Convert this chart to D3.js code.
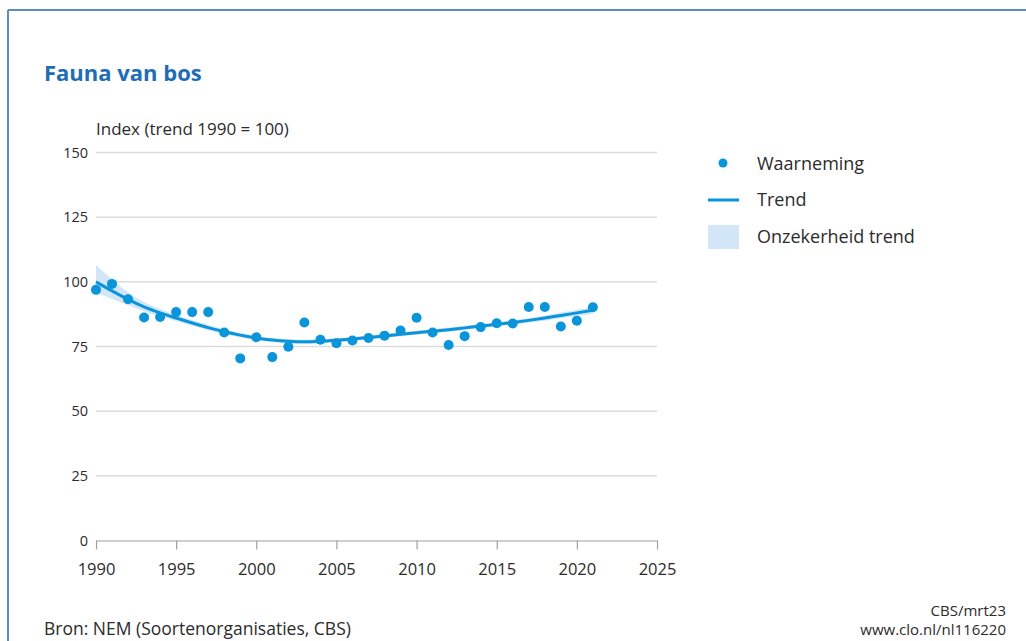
<!DOCTYPE html>
<html>
<head>
<meta charset="utf-8">
<script src="https://cdn.jsdelivr.net/npm/d3@7.9.0/dist/d3.min.js"></script>
<style>
  body { margin: 0; background: #fff; }
  svg { font-family: "Open Sans", sans-serif; }
</style>
</head>
<body>
<svg width="1026" height="641"></svg>
<script>
// data
const years = d3.range(1990, 2022);
const observed = [96.9, 99.2, 93.3, 86.2, 86.4, 88.3, 88.3, 88.3, 80.4, 70.4,
                  78.6, 70.9, 74.9, 84.3, 77.6, 76.3, 77.3, 78.3, 79.2, 81.2,
                  86.1, 80.4, 75.6, 79.0, 82.5, 84.0, 83.9, 90.3, 90.3, 82.7,
                  85.0, 90.2];
const trend = [100, 96.5, 93.2, 90.3, 88.0, 86.0, 84.1, 82.3, 80.7, 79.4,
               78.3, 77.5, 77.0, 76.8, 77.0, 77.4, 77.9, 78.5, 79.1, 79.7,
               80.3, 80.9, 81.5, 82.2, 82.9, 83.6, 84.3, 85.1, 86.0, 87.0,
               88.0, 89.0];
const lower = [95.8, 93.4, 91.0, 88.6, 86.6, 84.8, 83.0, 81.3, 79.8, 78.5,
               77.5, 76.7, 76.2, 76.0, 76.2, 76.6, 77.1, 77.7, 78.3, 78.9,
               79.5, 80.1, 80.7, 81.4, 82.1, 82.8, 83.5, 84.2, 85.0, 85.9,
               86.8, 87.7];
const upper = [106.4, 101.0, 96.0, 92.2, 89.5, 87.3, 85.2, 83.3, 81.6, 80.3,
               79.1, 78.3, 77.8, 77.6, 77.8, 78.2, 78.7, 79.3, 79.9, 80.5,
               81.1, 81.7, 82.3, 83.0, 83.7, 84.4, 85.1, 86.0, 87.0, 88.1,
               89.2, 90.3];
const yTicks = [0, 25, 50, 75, 100, 125, 150];
const xTicks = [1990, 1995, 2000, 2005, 2010, 2015, 2020, 2025];

const blue = "#0a95da";
const ink = "#2b2b2b";
const svg = d3.select("svg");

// frame
svg.append("line").attr("x1", 8).attr("x2", 1026).attr("y1", 10).attr("y2", 10)
  .attr("stroke", "#5b8ac5").attr("stroke-width", 2);
svg.append("line").attr("x1", 8).attr("x2", 8).attr("y1", 10).attr("y2", 641)
  .attr("stroke", "#5b8ac5").attr("stroke-width", 2);

svg.append("text").attr("x", 44).attr("y", 81)
  .attr("font-size", 22).attr("font-weight", 700).attr("fill", "#1f6db5")
  .text("Fauna van bos");

const x = d3.scaleLinear().domain([1990, 2025]).range([96, 657]);
const y = d3.scaleLinear().domain([0, 150]).range([540.5, 152.5]);

svg.append("text").attr("x", 96).attr("y", 135)
  .attr("font-size", 17).attr("fill", ink)
  .text("Index (trend 1990 = 100)");

// gridlines + y labels
const grid = svg.append("g");
yTicks.filter(d => d > 0).forEach(t => {
  grid.append("line").attr("x1", x(1990)).attr("x2", x(2025))
    .attr("y1", y(t)).attr("y2", y(t))
    .attr("stroke", "#dcdcdc").attr("stroke-width", 1.5);
});
yTicks.forEach(t => {
  grid.append("text").attr("x", 88).attr("y", y(t)).attr("dy", "0.35em")
    .attr("text-anchor", "end").attr("font-size", 14.5).attr("fill", ink)
    .text(t);
});

// x axis
const xAxis = d3.axisBottom(x).tickValues(xTicks).tickFormat(d3.format("d"))
  .tickSize(9).tickSizeOuter(0).tickPadding(14);
const gx = svg.append("g").attr("transform", `translate(0,${y(0)})`).call(xAxis);
gx.select(".domain").attr("stroke", "#a0a0a0").attr("stroke-width", 1.2);
gx.selectAll(".tick line").attr("stroke", "#a0a0a0").attr("stroke-width", 1.2);
gx.selectAll("text").attr("font-size", 16.5).attr("fill", ink)
  .attr("font-family", "Open Sans, sans-serif");

// uncertainty band
const band = d3.area()
  .x((d, i) => x(years[i]))
  .y0((d, i) => y(lower[i]))
  .y1((d, i) => y(upper[i]))
  .curve(d3.curveMonotoneX);
svg.append("path").datum(years).attr("d", band).attr("fill", "#d3e6f8");

// trend line
const line = d3.line()
  .x((d, i) => x(years[i]))
  .y(d => y(d))
  .curve(d3.curveMonotoneX);
svg.append("path").datum(trend).attr("d", line)
  .attr("fill", "none").attr("stroke", blue).attr("stroke-width", 3);

// observations
svg.append("g").selectAll("circle").data(observed).join("circle")
  .attr("cx", (d, i) => x(years[i])).attr("cy", d => y(d))
  .attr("r", 5).attr("fill", blue);

// legend
const lg = svg.append("g");
lg.append("circle").attr("cx", 723).attr("cy", 163).attr("r", 4.5).attr("fill", blue);
lg.append("line").attr("x1", 708).attr("x2", 739).attr("y1", 200).attr("y2", 200)
  .attr("stroke", blue).attr("stroke-width", 3);
lg.append("rect").attr("x", 708).attr("y", 225).attr("width", 31).attr("height", 24)
  .attr("fill", "#d3e6f8");
[["Waarneming", 164], ["Trend", 200], ["Onzekerheid trend", 237]].forEach(([t, yy]) => {
  lg.append("text").attr("x", 757).attr("y", yy).attr("dy", "0.35em")
    .attr("font-size", 18).attr("fill", ink).text(t);
});

// footer
svg.append("text").attr("x", 44).attr("y", 629).attr("dy", "0.35em")
  .attr("font-size", 17.5).attr("fill", ink)
  .text("Bron: NEM (Soortenorganisaties, CBS)");
svg.append("text").attr("x", 1006).attr("y", 611).attr("dy", "0.35em")
  .attr("text-anchor", "end").attr("font-size", 15).attr("fill", ink)
  .text("CBS/mrt23");
svg.append("text").attr("x", 1006).attr("y", 630).attr("dy", "0.35em")
  .attr("text-anchor", "end").attr("font-size", 15).attr("fill", ink)
  .text("www.clo.nl/nl116220");
</script>
</body>
</html>
